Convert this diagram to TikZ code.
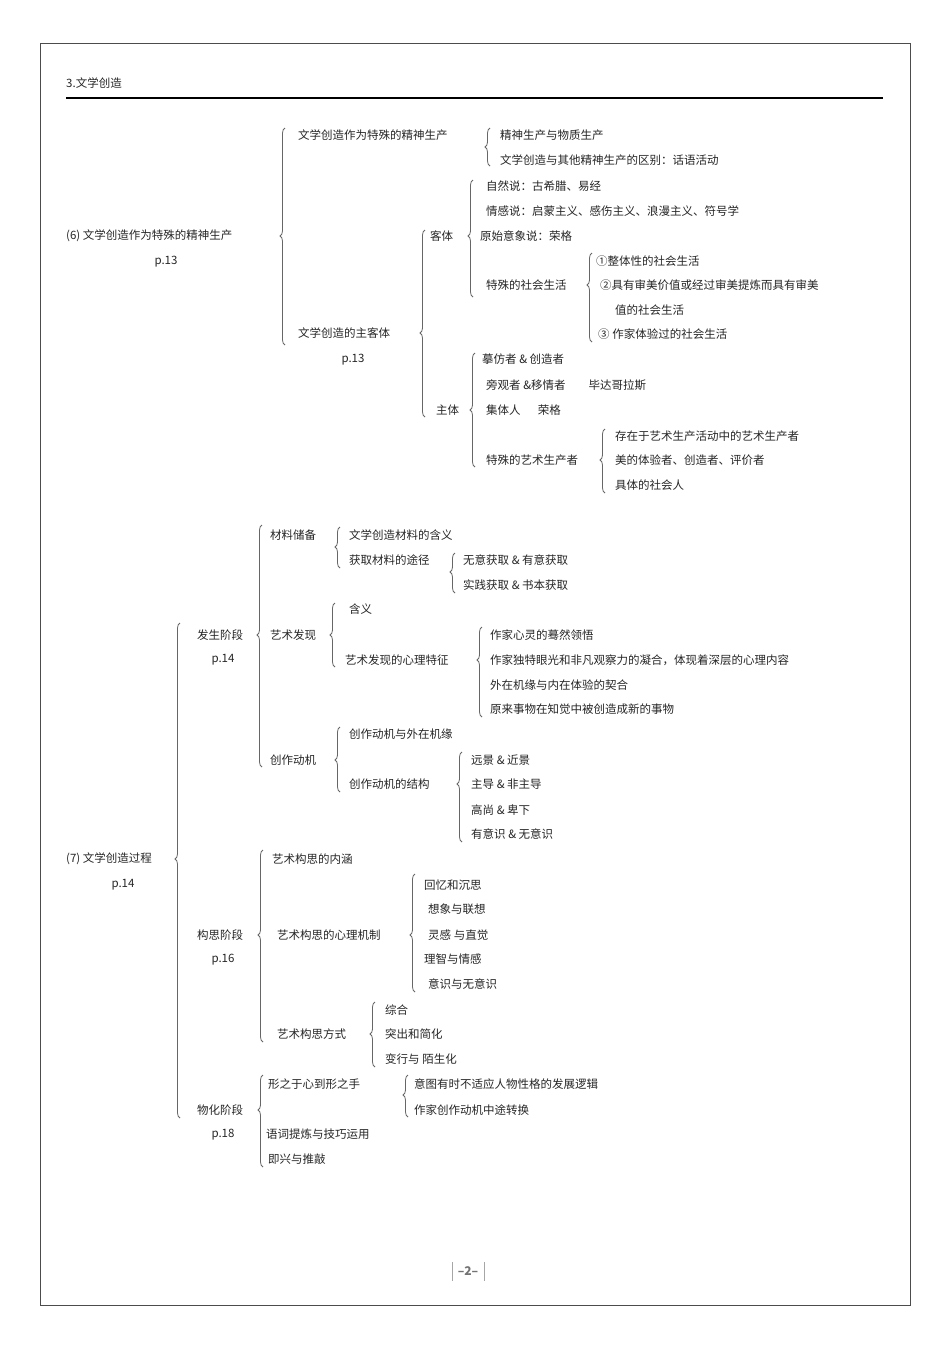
\documentclass[tikz,border=0pt]{standalone}
\usepackage{fontspec}
\setmainfont{Noto Sans CJK SC}
\usetikzlibrary{decorations.pathreplacing}
\tikzset{t/.style={anchor=west,inner sep=0pt,font=\fontsize{11.5}{13}\selectfont,text=black!85},
 tc/.style={t,anchor=center},
 brcs/.style={draw=black!60,line width=0.8pt,decorate}}
\newcommand\brc[4]{\pgfmathsetmacro\asp{(#4-#2)/(#3-#2)}\draw[brcs,decoration={brace,mirror,amplitude=5pt,aspect=\asp}] (#1,#2) -- (#1,#3);}
\begin{document}
\begin{tikzpicture}[x=1pt,y=-1pt]
\useasboundingbox (0,0) rectangle (950,1345);
\fill[white] (0,0) rectangle (950,1345);
\draw[black!70,line width=0.8pt] (40,43) rectangle (910,1305);
\draw[black,line width=1.8pt] (66,98) -- (883,98);
\node[t] (h) at (66,83) {3.文学创造};
% section 6
\node[t] (s6) at (66,236) {(6) 文学创造作为特殊的精神生产};
\node[tc] (s6p) at (166,262) {p.13};
\brc{285}{128}{345}{236}
\node[t] (a1) at (298,135) {文学创造作为特殊的精神生产};
\node[t] (a2) at (298,333) {文学创造的主客体};
\node[tc] (a2p) at (353,360) {p.13};
\brc{490}{128}{166}{147}
\node[t] at (500,135) {精神生产与物质生产};
\node[t] at (500,160) {文学创造与其他精神生产的区别：话语活动};
\brc{425}{230}{417}{333}
\node[t] (k) at (430,236) {客体};
\node[t] (z) at (436,410) {主体};
\brc{473}{180}{297}{236}
\node[t] at (486,186) {自然说：古希腊、易经};
\node[t] at (486,211) {情感说：启蒙主义、感伤主义、浪漫主义、符号学};
\node[t] at (480,236) {原始意象说：荣格};
\node[t] at (486,285) {特殊的社会生活};
\brc{592}{253}{342}{285}
\node[t] at (596,261) {①整体性的社会生活};
\node[t] at (600,285) {②具有审美价值或经过审美提炼而具有审美};
\node[t] at (615,310) {值的社会生活};
\node[t] at (598,334) {③ 作家体验过的社会生活};
\brc{475}{353}{467}{410}
\node[t] at (482,359) {摹仿者 \& 创造者};
\node[t] at (486,385) {旁观者 \&移情者\hspace{2em}毕达哥拉斯};
\node[t] at (486,410) {集体人\hspace{1.5em}荣格};
\node[t] at (486,460) {特殊的艺术生产者};
\brc{605}{429}{493}{460}
\node[t] at (615,436) {存在于艺术生产活动中的艺术生产者};
\node[t] at (615,460) {美的体验者、创造者、评价者};
\node[t] at (615,485) {具体的社会人};
% section 7
\node[t] (s7) at (66,859) {(7) 文学创造过程};
\node[tc] at (123,885) {p.14};
\brc{180}{623}{1118}{859}
\node[t] at (197,635) {发生阶段};
\node[tc] at (223,660) {p.14};
\node[t] at (197,935) {构思阶段};
\node[tc] at (223,960) {p.16};
\node[t] at (197,1110) {物化阶段};
\node[tc] at (223,1135) {p.18};
\brc{262}{525}{767}{635}
\node[t] at (270,535) {材料储备};
\node[t] at (270,635) {艺术发现};
\node[t] at (270,760) {创作动机};
\brc{340}{527}{568}{547}
\node[t] at (349,535) {文学创造材料的含义};
\node[t] at (349,560) {获取材料的途径};
\brc{455}{553}{593}{572}
\node[t] at (463,560) {无意获取 \& 有意获取};
\node[t] at (463,585) {实践获取 \& 书本获取};
\brc{335}{603}{667}{635}
\node[t] at (349,609) {含义};
\node[t] at (345,660) {艺术发现的心理特征};
\brc{482}{627}{717}{660}
\node[t] at (490,635) {作家心灵的蓦然领悟};
\node[t] at (490,660) {作家独特眼光和非凡观察力的凝合，体现着深层的心理内容};
\node[t] at (490,685) {外在机缘与内在体验的契合};
\node[t] at (490,709) {原来事物在知觉中被创造成新的事物};
\brc{340}{727}{792}{760}
\node[t] at (349,734) {创作动机与外在机缘};
\node[t] at (349,784) {创作动机的结构};
\brc{462}{752}{842}{784}
\node[t] at (471,760) {远景 \& 近景};
\node[t] at (471,784) {主导 \& 非主导};
\node[t] at (471,810) {高尚 \& 卑下};
\node[t] at (471,834) {有意识 \& 无意识};
\brc{263}{850}{1042}{935}
\node[t] at (272,859) {艺术构思的内涵};
\node[t] at (277,935) {艺术构思的心理机制};
\node[t] at (277,1034) {艺术构思方式};
\brc{415}{874}{992}{935}
\node[t] at (424,885) {回忆和沉思};
\node[t] at (428,909) {想象与联想};
\node[t] at (428,935) {灵感 与直觉};
\node[t] at (424,959) {理智与情感};
\node[t] at (428,984) {意识与无意识};
\brc{375}{1002}{1067}{1034}
\node[t] at (385,1010) {综合};
\node[t] at (385,1034) {突出和简化};
\node[t] at (385,1059) {变行与 陌生化};
\brc{263}{1075}{1167}{1110}
\node[t] at (268,1084) {形之于心到形之手};
\node[t] at (266,1134) {语词提炼与技巧运用};
\node[t] at (268,1159) {即兴与推敲};
\brc{408}{1075}{1117}{1095}
\node[t] at (414,1084) {意图有时不适应人物性格的发展逻辑};
\node[t] at (414,1110) {作家创作动机中途转换};
% page number
\node[inner sep=1pt,text=black!55,font=\bfseries\fontsize{12}{12}\selectfont] (pn) at (468,1271) {–2–};
\draw[black!35] (452,1262) -- (452,1281) (484,1262) -- (484,1281);
\end{tikzpicture}
\end{document}
